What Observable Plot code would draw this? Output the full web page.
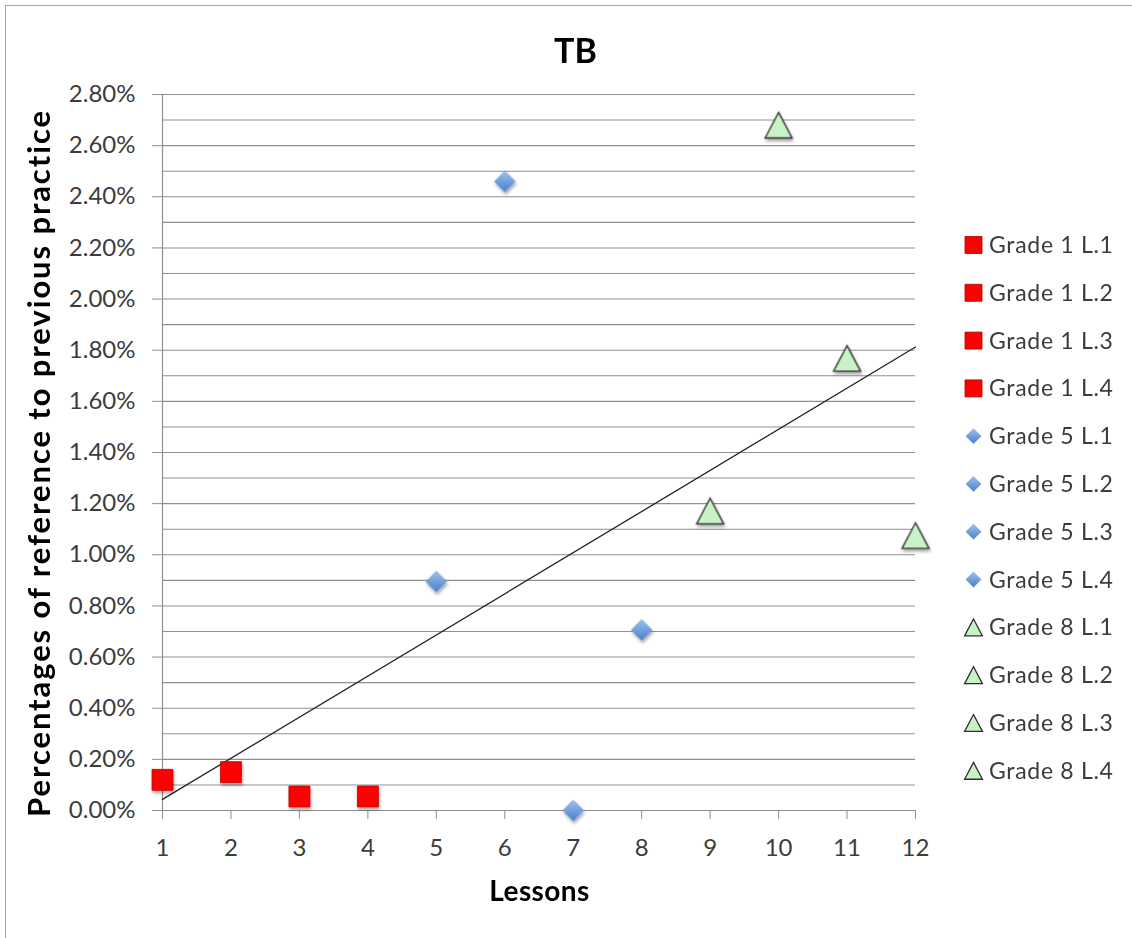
<!DOCTYPE html>
<html>
<head>
<meta charset="utf-8">
<script src="https://cdn.jsdelivr.net/npm/d3@7"></script>
<script src="https://cdn.jsdelivr.net/npm/@observablehq/plot@0.6"></script>
<style>
  html, body { margin: 0; padding: 0; background: #fff; overflow: hidden; }
  #wrap { position: relative; width: 1132px; height: 938px; overflow: hidden; background: #fff; font-family: Lato, "Open Sans", sans-serif; }
  #border { position: absolute; left: 5px; top: 5px; width: 1140px; height: 945px; border: 1.5px solid #a4a4a4; box-sizing: border-box; }
  #chart { position: absolute; left: 0; top: 0; }
  #overlay { position: absolute; left: 0; top: 0; pointer-events: none; }
</style>
</head>
<body>
<div id="wrap">
  <div id="border"></div>
  <div id="chart"></div>
  <svg id="overlay" width="1132" height="938"></svg>
</div>
<script>
// ---------- data ----------
const lessons = [1, 2, 3, 4, 5, 6, 7, 8, 9, 10, 11, 12];
const seriesNames = [
  "Grade 1 L.1", "Grade 1 L.2", "Grade 1 L.3", "Grade 1 L.4",
  "Grade 5 L.1", "Grade 5 L.2", "Grade 5 L.3", "Grade 5 L.4",
  "Grade 8 L.1", "Grade 8 L.2", "Grade 8 L.3", "Grade 8 L.4"
];
const grades = [
  "Grade 1", "Grade 1", "Grade 1", "Grade 1",
  "Grade 5", "Grade 5", "Grade 5", "Grade 5",
  "Grade 8", "Grade 8", "Grade 8", "Grade 8"
];
// percentages (in %)
const valuesPct = [0.12, 0.15, 0.055, 0.055, 0.895, 2.46, 0.0, 0.706, 1.171, 2.68, 1.768, 1.075];
const yTickValuesPct = [0, 0.2, 0.4, 0.6, 0.8, 1.0, 1.2, 1.4, 1.6, 1.8, 2.0, 2.2, 2.4, 2.6, 2.8];

const titleText = "TB";
const xLabelText = "Lessons";
const yLabelText = "Percentages of reference to previous practice";

const data = lessons.map((x, i) => ({
  lesson: x, value: valuesPct[i] / 100, series: seriesNames[i], grade: grades[i]
}));

// ---------- styles ----------
const triangleSymbol = {
  draw(context, size) {
    const r = Math.sqrt(size / Math.PI);
    const w = 1.35 * r, h = 1.28 * r;
    context.moveTo(0, -h);
    context.lineTo(w, h);
    context.lineTo(-w, h);
    context.closePath();
  }
};
const gradeStyle = {
  "Grade 1": {symbol: "square", fill: "#ff0000", stroke: "#b40000", strokeWidth: 0.8, r: 11.8, lr: 9.6},
  "Grade 5": {symbol: "diamond2", fill: "url(#blueGrad)", stroke: "#5f8fcf", strokeWidth: 0.5, r: 9.4, lr: 6.8},
  "Grade 8": {symbol: triangleSymbol, fill: "#c9f2c7", stroke: "#2f2f2f", strokeWidth: 1.3, r: 10.0, lr: 6.6}
};
const gridColor = "#8f8f8f";
const textColor = "#3c3c3c";

// ---------- chart ----------
const W = 1132, H = 938;
const dotMarks = Object.keys(gradeStyle).map(g => {
  const s = gradeStyle[g];
  return Plot.dot(data.filter(d => d.grade === g), {
    x: "lesson", y: "value", symbol: () => s.symbol, r: s.r,
    fill: s.fill, stroke: s.stroke, strokeWidth: s.strokeWidth, ariaLabel: "dot " + g
  });
});

const chart = Plot.plot({
  width: W,
  height: H,
  marginLeft: 162,
  marginRight: W - 915,
  marginTop: 94,
  marginBottom: H - 810,
  style: {fontFamily: "Lato, 'Open Sans', sans-serif", background: "transparent", color: textColor},
  x: {domain: [1, 12]},
  y: {domain: [0, 0.028]},
  symbol: {type: "identity"},
  marks: [
    Plot.gridY({ticks: 28, stroke: gridColor, strokeOpacity: 1, strokeWidth: 1.1}),
    Plot.ruleX([1], {stroke: gridColor, strokeWidth: 1.2}),
    Plot.ruleY([0], {stroke: gridColor, strokeWidth: 1.2}),
    Plot.axisY({
      ticks: yTickValuesPct.map(v => v / 100), tickFormat: d3.format(".2%"),
      tickSize: 10, tickPadding: 17, fontSize: 24, label: null, stroke: gridColor, fill: textColor
    }),
    Plot.axisX({
      ticks: lessons, tickFormat: d3.format("d"),
      tickSize: 9, tickPadding: 19, fontSize: 24, label: null, stroke: gridColor, fill: textColor
    }),
    Plot.linearRegressionY(data, {x: "lesson", y: "value", stroke: "#222", strokeWidth: 1.3, ci: 0}),
    ...dotMarks
  ]
});
document.getElementById("chart").appendChild(chart);

// ---------- overlay: defs, titles, legend ----------
const ov = d3.select("#overlay");
const defs = ov.append("defs");
const grad = defs.append("linearGradient").attr("id", "blueGrad").attr("x1", 0).attr("y1", 0).attr("x2", 0).attr("y2", 1);
grad.append("stop").attr("offset", "0%").attr("stop-color", "#9cc0ee");
grad.append("stop").attr("offset", "100%").attr("stop-color", "#4b7fcb");
const flt = defs.append("filter").attr("id", "shadow").attr("x", "-50%").attr("y", "-50%").attr("width", "200%").attr("height", "200%");
flt.append("feDropShadow").attr("dx", 1).attr("dy", 2.5).attr("stdDeviation", 1.6)
  .attr("flood-color", "#000").attr("flood-opacity", 0.35);

d3.select(chart).selectAll("g[aria-label^='dot']").attr("filter", "url(#shadow)");

ov.append("text").attr("x", 575.5).attr("y", 63).attr("text-anchor", "middle")
  .attr("font-family", "Lato").attr("font-weight", "bold").attr("font-size", 34).attr("fill", "#000")
  .text(titleText);
ov.append("text").attr("x", 539.5).attr("y", 901).attr("text-anchor", "middle")
  .attr("font-family", "Lato").attr("font-weight", "bold").attr("font-size", 28).attr("letter-spacing", 0.4).attr("fill", "#000")
  .text(xLabelText);
ov.append("text").attr("transform", "translate(50,463) rotate(-90)").attr("text-anchor", "middle")
  .attr("font-family", "Lato").attr("font-weight", "bold").attr("font-size", 31).attr("letter-spacing", 1.9).attr("fill", "#000")
  .text(yLabelText);

const legendTop = 245, legendStep = 47.8;
const lg = ov.append("g");
seriesNames.forEach((name, i) => {
  const s = gradeStyle[grades[i]];
  const cy = legendTop + i * legendStep;
  const sym = typeof s.symbol === "string"
    ? {square: d3.symbolSquare, diamond2: d3.symbolDiamond2}[s.symbol]
    : s.symbol;
  lg.append("path")
    .attr("d", d3.symbol(sym, s.lr * s.lr * Math.PI)())
    .attr("transform", `translate(973.5,${cy})`)
    .attr("fill", s.fill).attr("stroke", s.stroke).attr("stroke-width", s.strokeWidth);
  lg.append("text").attr("x", 989).attr("y", cy + 8)
    .attr("font-family", "Lato").attr("font-size", 23).attr("letter-spacing", 0.7).attr("fill", textColor)
    .text(name);
});
</script>
</body>
</html>
